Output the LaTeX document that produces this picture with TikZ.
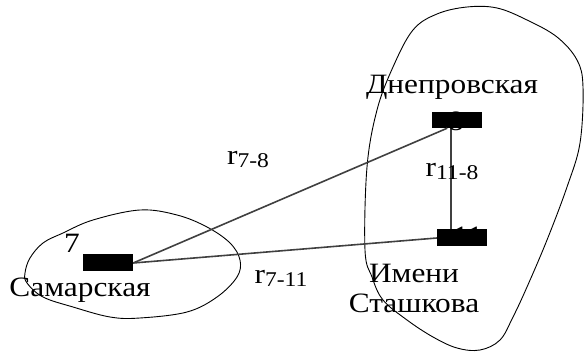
\documentclass[tikz,border=0pt]{standalone}
\usepackage{fontspec}
\setmainfont{Liberation Serif}[FakeStretch=1.12]
\usetikzlibrary{positioning, calc}
\definecolor{linkgray}{HTML}{404040}
\newcommand{\rlab}[1]{r\raisebox{-3pt}{\fontsize{21}{21}\selectfont #1}}

\begin{document}
\begin{tikzpicture}[x=1pt, y=-1pt,
          station/.style={fill=black, inner sep=0pt, minimum width=50pt, minimum height=17pt},
          lbl/.style={font=\fontsize{28}{30}\selectfont, inner sep=0pt, align=center},
          link/.style={draw=linkgray, line width=1.6pt},
          zone/.style={draw=black, line width=0.9pt}]
        \useasboundingbox (0,0) rectangle (584,363);
        % districts
        \draw[zone] plot[smooth cycle, tension=0.6] coordinates {(25,273) (30,258) (43,243) (63,233) (93,220) (140,210) (177,215) (207,227) (230,243) (240,260) (237,277) (217,297) (187,312) (140,318) (110,317) (73,307) (43,297) (27,283)};
        \draw[zone] plot[smooth cycle, tension=0.6] coordinates {(467,7) (497,8) (527,20) (557,37) (577,60) (583,87) (580,143) (567,187) (547,240) (527,287) (513,317) (500,340) (480,350) (457,348) (433,337) (407,320) (383,300) (372,277) (365,250) (367,167) (377,110) (393,67) (413,30) (437,14)};
        % stations
        \node[station] (s7) at (108,263) {};
        \node[station, minimum height=16pt] (s8) at (457,120) {};
        \node[station] (s11) at (462,238) {};
        \draw[link] (s7.east) -- (s8.-140);
        \draw[link] ([xshift=-6pt]s8.south) -- ([xshift=-11pt]s11.north);
        \draw[link] (s7.east) -- (s11.west);
        \node[lbl] (n7) at (72,243) {7};
        \node[lbl] (n8) at (456,121) {8};
        \node[lbl] (n11) at (468,236) {11};
        \node[lbl] (samara) at (80,290) {Самарская};
        \node[lbl] (dnepr) at (452,87) {Днепровская};
        \node[lbl] (stash) at (414,288) {Имени\\Сташкова};
        \node[lbl] (r78) at (248,160) {\rlab{7-8}};
        \node[lbl] (r118) at (452,172) {\rlab{11-8}};
        \node[lbl] (r711) at (281,278) {\rlab{7-11}};
      \end{tikzpicture}
\end{document}
